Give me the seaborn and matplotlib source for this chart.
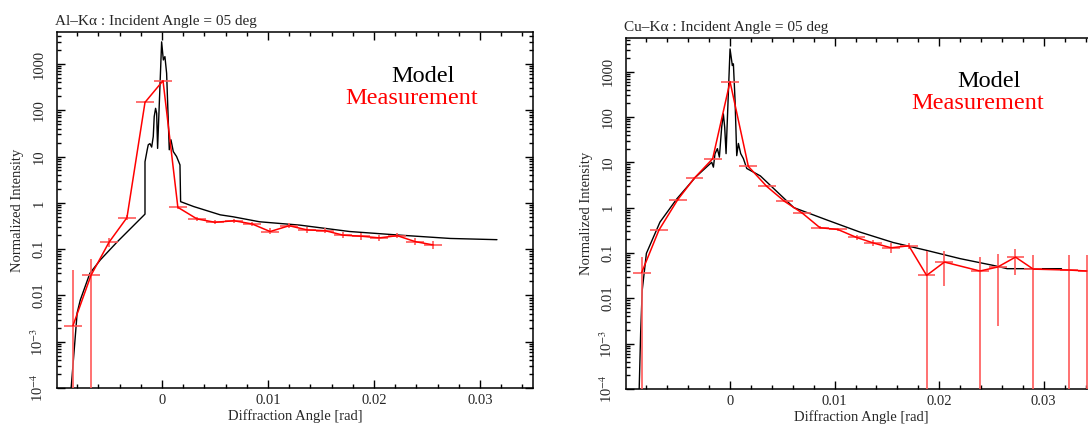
import numpy as np
import matplotlib
matplotlib.use("Agg")
import matplotlib.pyplot as plt
import matplotlib.ticker as mticker
import seaborn as sns

# ---------------- data ----------------
titles = ["Al\u2013K\u03b1 : Incident Angle = 05 deg", "Cu\u2013K\u03b1 : Incident Angle = 05 deg"]

# Al-Ka model
model_al_x = [-0.0086, -0.0082, -0.0080, -0.0077, -0.0068, -0.0058, -0.0042, -0.0016, -0.00160,
              -0.00139, -0.00129, -0.00113, -0.00097, -0.00082, -0.00073, -0.00060, -0.00050,
              -0.00041, -0.00003, 0.00013, 0.00028, 0.00044, 0.00069, 0.00085, 0.00107, 0.00138,
              0.00170, 0.00176, 0.0030, 0.0055, 0.0067, 0.0092, 0.0130, 0.0177, 0.0225, 0.0272, 0.0316]
model_al_y = [8e-5, 0.0011, 0.0042, 0.008, 0.030, 0.059, 0.145, 0.57, 7.7,
              14, 18, 19, 16, 27, 73, 110, 86,
              15, 3000, 1220, 1440, 630, 14, 23, 12.8, 10,
              6.6, 1.06, 0.83, 0.55, 0.50, 0.39, 0.33, 0.24, 0.20, 0.17, 0.16]

# Al-Ka measurement
meas_al_x = [-0.0084, -0.0067, -0.0050, -0.0033, -0.0016, 0.0001, 0.0015, 0.0033, 0.0050, 0.0068,
             0.0085, 0.0102, 0.0120, 0.0137, 0.0154, 0.0171, 0.0188, 0.0205, 0.0222, 0.0239, 0.0256]
meas_al_y = [0.0022, 0.027, 0.14, 0.48, 148, 435, 0.80, 0.45, 0.38, 0.41,
             0.35, 0.24, 0.32, 0.26, 0.25, 0.20, 0.19, 0.175, 0.195, 0.145, 0.123]
meas_al_lo = [1e-6, 1e-6, 0.11, 0.42, 140, 420, 0.74, 0.41, 0.35, 0.37,
              0.31, 0.21, 0.29, 0.22, 0.22, 0.17, 0.16, 0.15, 0.17, 0.12, 0.10]
meas_al_hi = [0.035, 0.062, 0.175, 0.55, 156, 450, 0.87, 0.49, 0.42, 0.45,
              0.39, 0.28, 0.36, 0.30, 0.29, 0.23, 0.22, 0.20, 0.22, 0.17, 0.15]
meas_al_xerr = 0.00085

# Cu-Ka model
model_cu_x = [-0.0087, -0.00855, -0.0084, -0.0080, -0.0067, -0.0051, -0.0033, -0.00175, -0.00159,
              -0.00144, -0.00121, -0.00102, -0.00080, -0.00064, -0.00051, -0.00038, 0.0, 0.00022,
              0.00032, 0.00048, 0.00064, 0.00080, 0.00102, 0.00128, 0.00160, 0.0029, 0.0061,
              0.0093, 0.0124, 0.0156, 0.0188, 0.0220, 0.0252, 0.0265, 0.0317]
model_cu_y = [8e-5, 0.0017, 0.015, 0.098, 0.48, 1.55, 4.7, 10, 7.8,
              15.4, 20, 13, 59, 117, 59, 15.5, 3160, 1360,
              1480, 230, 14, 26, 15.5, 12, 7.3, 5.0, 1.0,
              0.53, 0.29, 0.17, 0.114, 0.075, 0.053, 0.045, 0.045]

# Cu-Ka measurement
meas_cu_x = [-0.00845, -0.0068, -0.0050, -0.0034, -0.00166, 0.0, 0.00175, 0.0035, 0.0052, 0.0069,
             0.0086, 0.0103, 0.0121, 0.0137, 0.0154, 0.0171, 0.0188, 0.0205, 0.0239, 0.0256,
             0.0273, 0.0290, 0.0324, 0.0341]
meas_cu_y = [0.037, 0.32, 1.5, 4.5, 12, 600, 8.1, 2.95, 1.38, 0.76,
             0.36, 0.33, 0.22, 0.166, 0.13, 0.144, 0.032, 0.063, 0.040, 0.049,
             0.081, 0.044, 0.042, 0.040]
meas_cu_lo = [1e-6, 0.30, 1.42, 4.3, 11.5, 580, 7.7, 2.8, 1.3, 0.71,
              0.33, 0.30, 0.19, 0.14, 0.10, 0.12, 1e-6, 0.019, 1e-6, 0.0025,
              0.032, 1e-6, 1e-6, 1e-6]
meas_cu_hi = [0.081, 0.34, 1.58, 4.7, 12.5, 620, 8.5, 3.1, 1.46, 0.81,
              0.39, 0.36, 0.25, 0.19, 0.17, 0.17, 0.11, 0.11, 0.081, 0.097,
              0.123, 0.089, 0.089, 0.089]
meas_cu_xerr = 0.00085

x_ticks = [0, 0.01, 0.02, 0.03]
x_tick_labels = ["0", "0.01", "0.02", "0.03"]
y_ticks = [1e-4, 1e-3, 1e-2, 1e-1, 1, 10, 100, 1000]
y_tick_labels = ["10$^{-4}$", "10$^{-3}$", "0.01", "0.1", "1", "10", "100", "1000"]
legend_labels = ["Model", "Measurement"]

# ---------------- style ----------------
sns.set_theme(style="ticks")
plt.rcParams["font.family"] = ["Liberation Serif", "DejaVu Serif"]
plt.rcParams["mathtext.fontset"] = "stix"

fig = plt.figure(figsize=(10.88, 4.24), dpi=100)
W, H = 1088.0, 424.0

panels = [
    dict(box=(57, 32, 533, 388), title=titles[0], mx=model_al_x, my=model_al_y,
         x=meas_al_x, y=meas_al_y, lo=meas_al_lo, hi=meas_al_hi, xerr=meas_al_xerr,
         xlim=(-0.0099, 0.0350), ylim=(1e-4, 4900),
         model_pos=(0.703, 0.859), meas_pos=(0.605, 0.797)),
    dict(box=(626, 38, 1096, 389), title=titles[1], mx=model_cu_x, my=model_cu_y,
         x=meas_cu_x, y=meas_cu_y, lo=meas_cu_lo, hi=meas_cu_hi, xerr=meas_cu_xerr,
         xlim=(-0.00995, 0.0350), ylim=(1e-4, 5500),
         model_pos=(0.704, 0.860), meas_pos=(0.608, 0.797)),
]

for p in panels:
    l, t, r, b = p["box"]
    ax = fig.add_axes([l / W, (H - b) / H, (r - l) / W, (b - t) / H])
    sns.lineplot(x=p["mx"], y=p["my"], ax=ax, color="black", linewidth=1.0,
                 sort=False, estimator=None)
    y = np.array(p["y"]); lo = np.array(p["lo"]); hi = np.array(p["hi"])
    ax.errorbar(p["x"], y, yerr=[y - lo, hi - y], xerr=p["xerr"], fmt="-",
                color="red", ecolor=(1.0, 0.35, 0.35), elinewidth=1.2, linewidth=1.1,
                capsize=0, zorder=3)
    ax.set_yscale("log")
    ax.set_xlim(*p["xlim"])
    ax.set_ylim(*p["ylim"])

    ax.set_xticks(x_ticks)
    ax.set_xticklabels(x_tick_labels, fontsize=10.5)
    ax.xaxis.set_minor_locator(mticker.MultipleLocator(0.002))
    ax.set_yticks(y_ticks)
    ax.set_yticklabels(y_tick_labels, fontsize=10.5, rotation=90, va="center")
    ax.yaxis.set_minor_locator(mticker.LogLocator(base=10, subs=np.arange(2, 10), numticks=20))
    ax.yaxis.set_minor_formatter(mticker.NullFormatter())

    ax.tick_params(which="both", direction="in", top=True, right=True, color="black",
                   width=1.0)
    ax.tick_params(which="major", length=6)
    ax.tick_params(which="minor", length=3)
    ax.tick_params(axis="y", pad=8)
    ax.tick_params(axis="x", pad=4)
    for s in ax.spines.values():
        s.set_color("black")
        s.set_linewidth(1.1)

    ax.set_xlabel("Diffraction Angle [rad]", fontsize=10.5, labelpad=2)
    ax.set_ylabel("Normalized Intensity", fontsize=10.5, labelpad=4)
    ax.set_title(p["title"], loc="left", fontsize=11, pad=5, x=-0.004)

    ax.text(p["model_pos"][0], p["model_pos"][1], legend_labels[0], transform=ax.transAxes,
            fontsize=17.5, color="black", ha="left", va="baseline")
    ax.text(p["meas_pos"][0], p["meas_pos"][1], legend_labels[1], transform=ax.transAxes,
            fontsize=17.5, color="red", ha="left", va="baseline")
    ax.set_facecolor("white")

fig.savefig("out.png", dpi=100, facecolor="white")
